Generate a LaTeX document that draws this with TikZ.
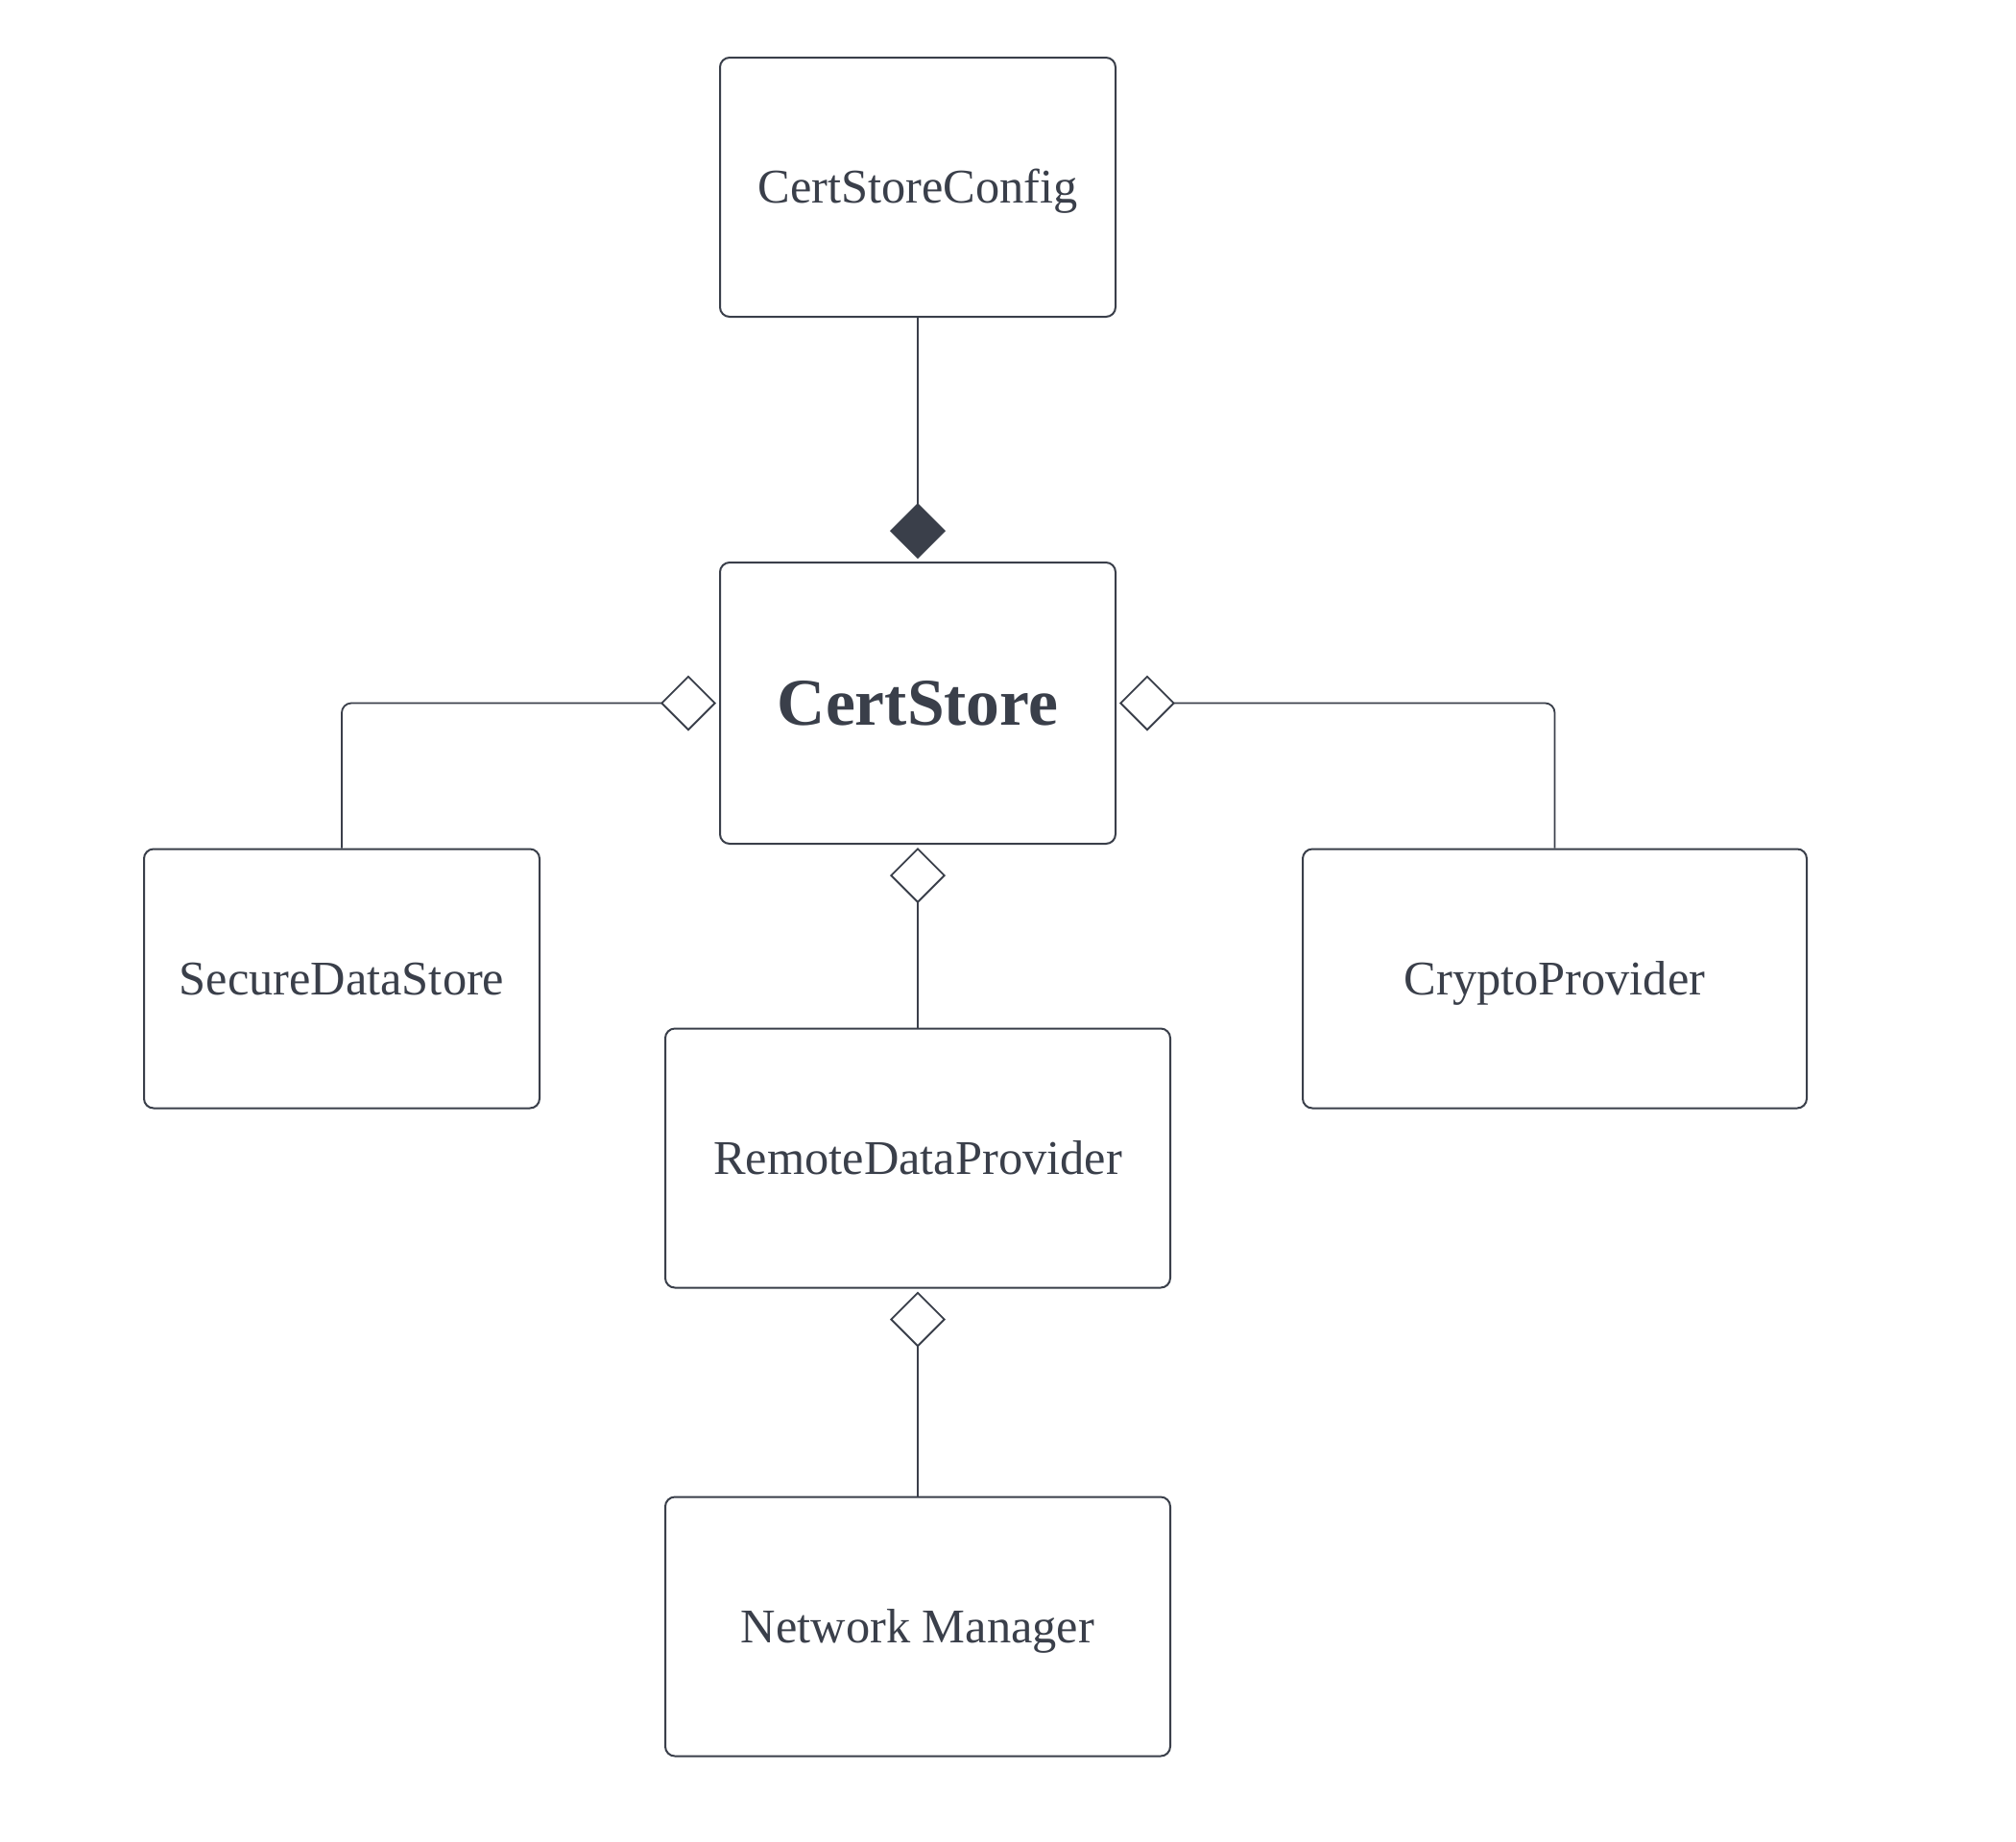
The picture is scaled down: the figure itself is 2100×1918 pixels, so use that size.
\documentclass[tikz,border=0pt]{standalone}
\usepackage{fontspec}
\setmainfont{Liberation Serif}
\usetikzlibrary{arrows.meta}
\definecolor{ink}{HTML}{3A3F4A}
\begin{document}
\begin{tikzpicture}[x=0.5pt,y=-0.5pt,
  cls/.style={draw=ink, line width=1pt, rounded corners=5pt, fill=white, text=ink,
    font=\fontsize{25.2pt}{30pt}\selectfont, text height=16.7pt, text depth=0pt,
    inner sep=0pt, minimum height=135pt},
  agg/.style={draw=ink, line width=0.9pt, rounded corners=5pt,
    -{Diamond[open, fill=white, length=29pt, width=29pt]}, shorten >=1.5pt},
  comp/.style={draw=ink, line width=0.9pt,
    -{Diamond[fill=ink, length=29pt, width=29pt]}, shorten >=1.5pt}]
\useasboundingbox[fill=white] (0,0) rectangle (2100,1918);
\node[cls, minimum width=206pt] (csc) at (956,195) {CertStoreConfig};
\node[cls, minimum width=206pt, minimum height=146.5pt,
  font=\fontsize{34.8pt}{40pt}\selectfont\bfseries, text height=23pt] (cs) at (956,732.5) {CertStore};
\node[cls, minimum width=206pt] (sds) at (356,1019.5) {SecureDataStore};
\node[cls, minimum width=262.5pt] (cp) at (1619.5,1019.5) {CryptoProvider};
\node[cls, minimum width=263pt] (rdp) at (956,1206.5) {RemoteDataProvider};
\node[cls, minimum width=263pt] (nm) at (956,1694.5) {Network Manager};
\draw[comp] (csc.south) -- (cs.north);
\draw[agg] (sds.north) |- (cs.west);
\draw[agg] (cp.north) |- (cs.east);
\draw[agg] (rdp.north) -- (cs.south);
\draw[agg] (nm.north) -- (rdp.south);
\end{tikzpicture}
\end{document}
